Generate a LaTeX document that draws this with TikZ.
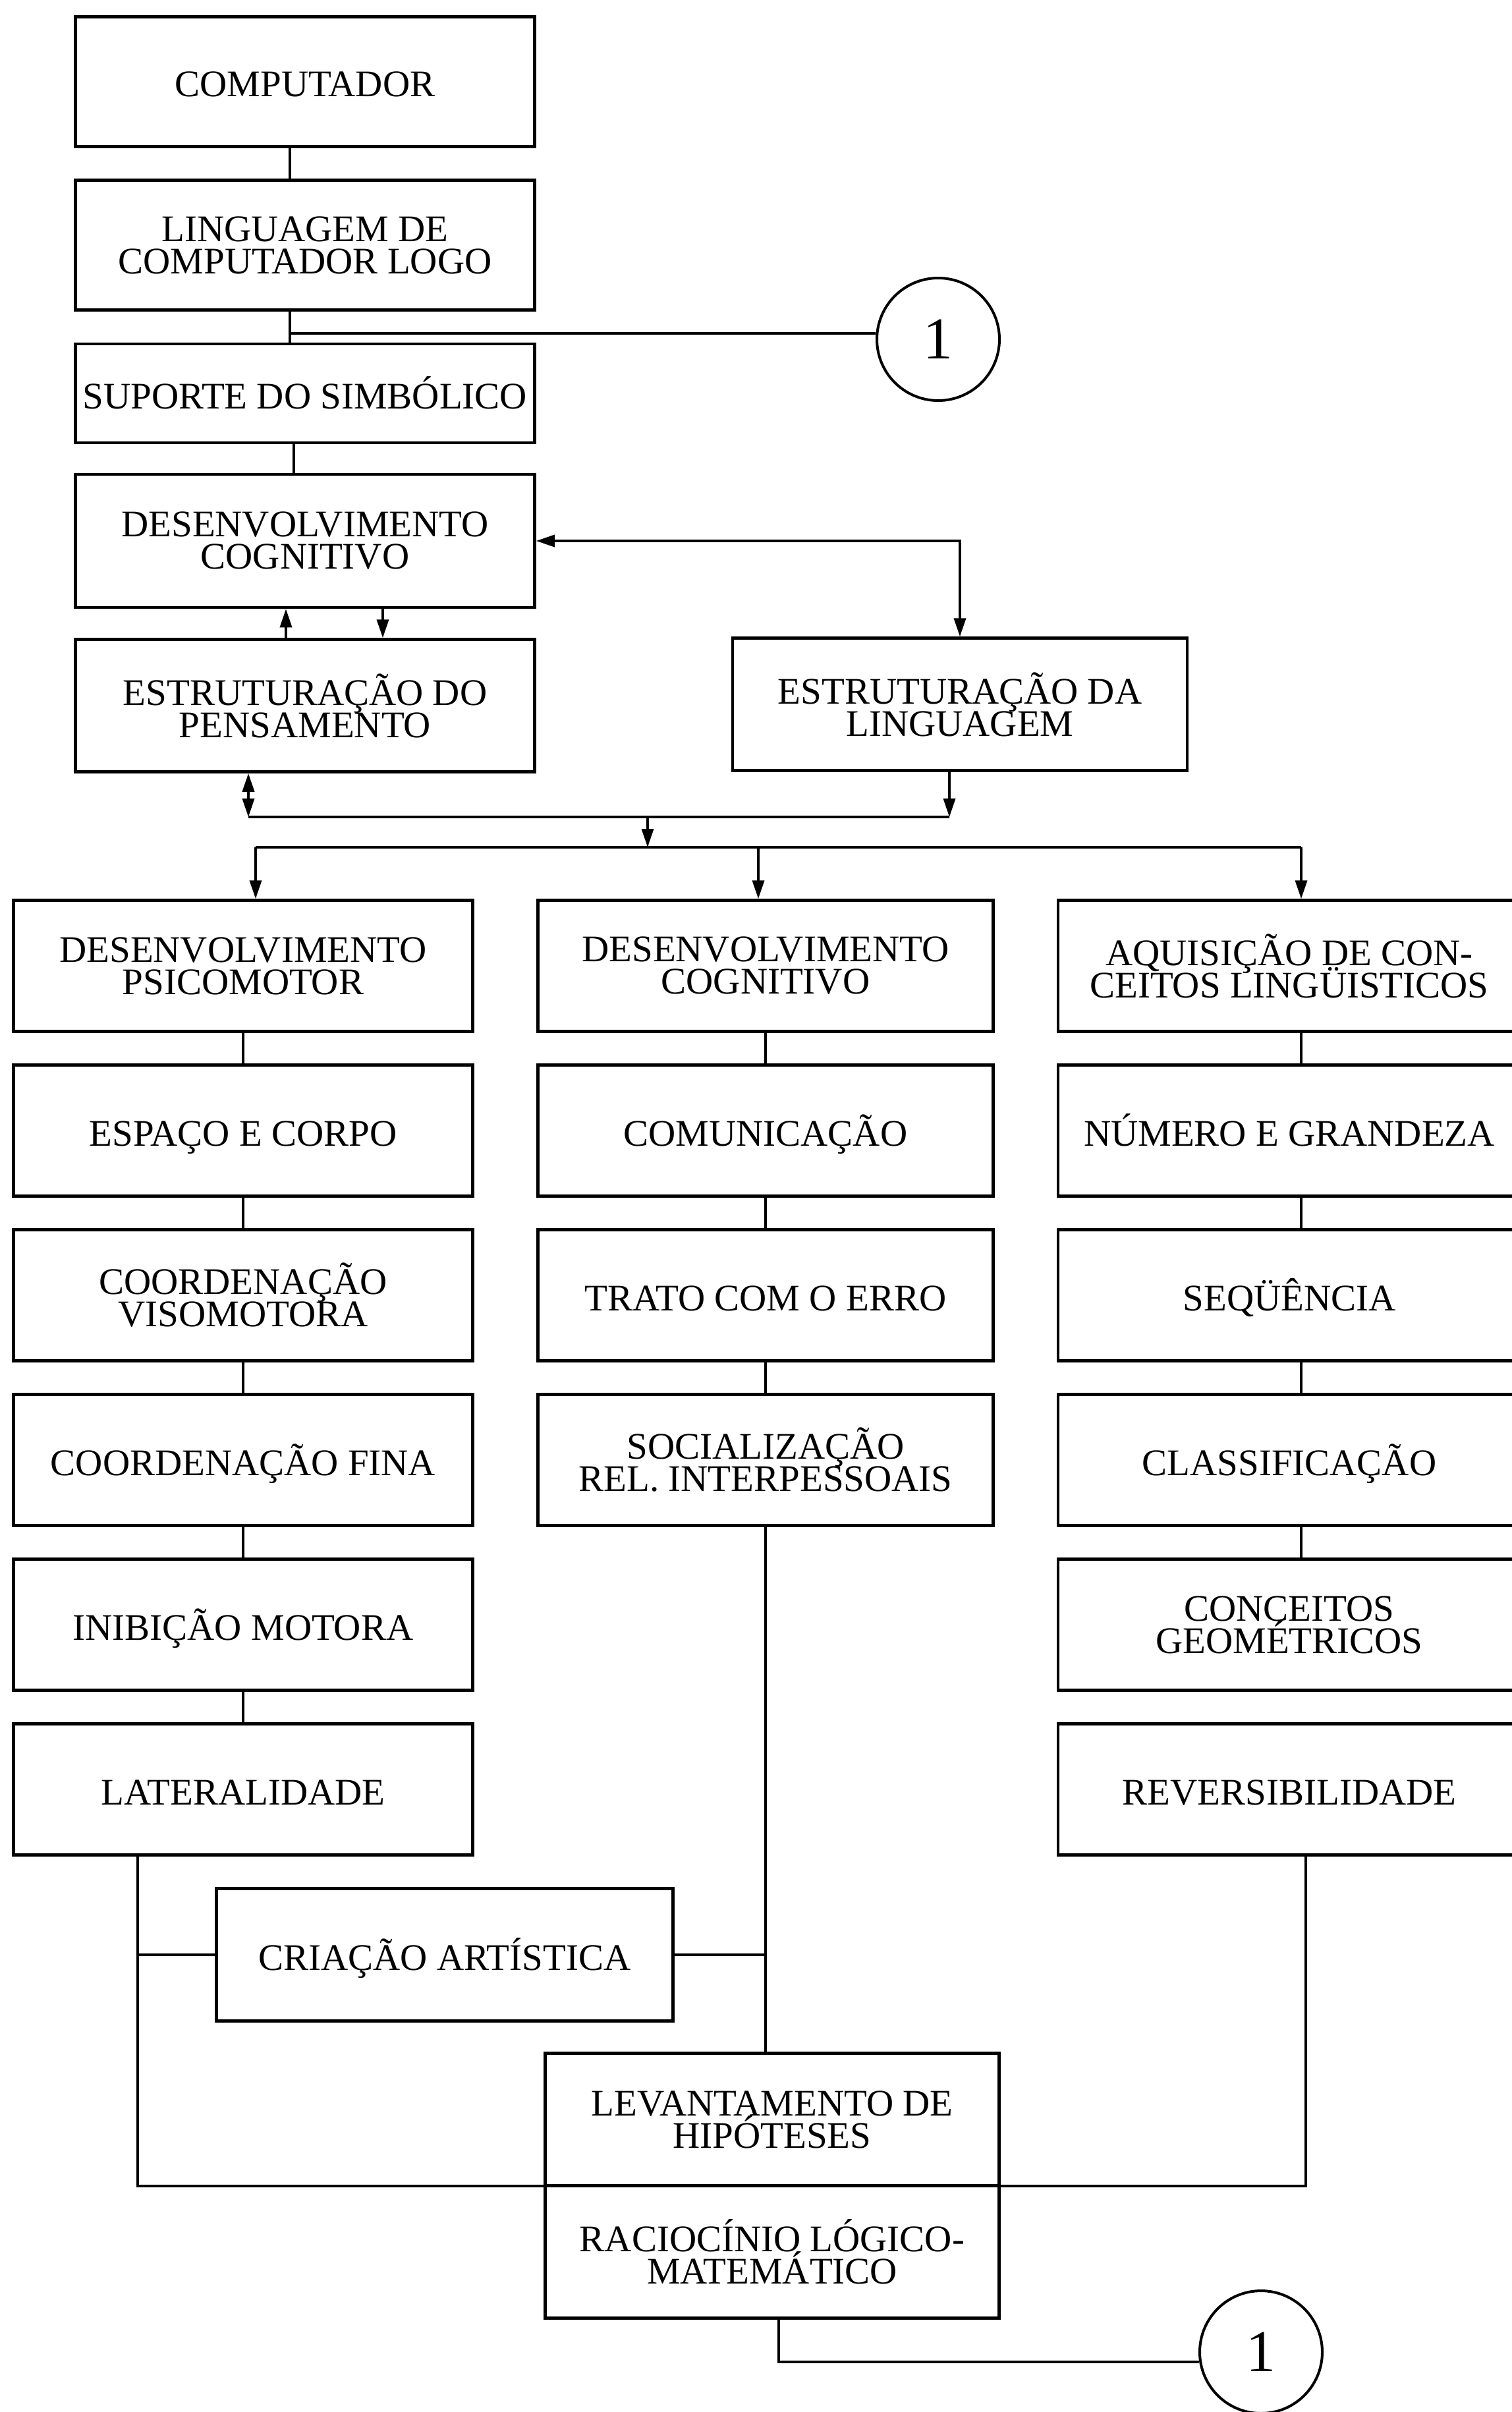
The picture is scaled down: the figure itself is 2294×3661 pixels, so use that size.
\documentclass[tikz,border=0pt]{standalone}
\usepackage{fontspec}
\setmainfont{Liberation Serif}
\usetikzlibrary{arrows.meta,positioning}

\tikzset{%
  % Specifications for style of nodes:
         base/.style    = { rectangle, draw = black, line width=4.5pt, inner sep=0pt, align=center, font={\fontsize{57pt}{49pt}\selectfont\lineskiplimit=-100pt} },
         box/.style     = { base, minimum width=697pt, minimum height=199pt },
         one/.style     = { text height=46pt, text depth=0pt },
         circ/.style    = { circle, draw = black, line width=4pt, minimum size=186pt, inner sep=0pt, font=\fontsize{90pt}{90pt}\selectfont },
  % Specifications for style of connectors:
         wire/.style    = { line width=3.5pt },
         pointer/.style = { wire, -{Triangle[length=28pt, width=18pt]} },
         twoway/.style  = { wire, {Triangle[length=28pt, width=18pt]}-{Triangle[length=28pt, width=18pt]} },
}

\begin{document}
\begin{tikzpicture}[x=1pt, y=-1pt, node distance=250pt]
    \useasboundingbox (0,0) rectangle (2294,3661);

    % Draw nodes
    \node (comp)    [box, one, minimum height=197pt] at (463,124)          {COMPUTADOR};
    \node (logo)    [box, minimum height=197pt, below of = comp, node distance=248pt] {LINGUAGEM DE\\COMPUTADOR LOGO};
    \node (sup)     [box, one, minimum height=150pt, below of = logo, node distance=225pt] {SUPORTE DO SIMBÓLICO};
    \node (devcog)  [box, minimum height=202pt, below of = sup, node distance=224pt]  {DESENVOLVIMENTO\\COGNITIVO};
    \node (estpen)  [box, minimum height=201pt, below of = devcog]          {ESTRUTURAÇÃO DO\\PENSAMENTO};
    \node (estlin)  [box, minimum width=690pt, minimum height=201pt] at (1457,1069) {ESTRUTURAÇÃO DA\\LINGUAGEM};
    \node (um1)     [circ] at (1424,515) {1};

    \node (psico)   [box] at (369,1466)              {DESENVOLVIMENTO\\PSICOMOTOR};
    \node (espaco)  [box, one, below of = psico]     {ESPAÇO E CORPO};
    \node (visomot) [box, below of = espaco]         {COORDENAÇÃO\\VISOMOTORA};
    \node (fina)    [box, one, below of = visomot]   {COORDENAÇÃO FINA};
    \node (inib)    [box, one, below of = fina]      {INIBIÇÃO MOTORA};
    \node (later)   [box, one, below of = inib]      {LATERALIDADE};

    \node (cogn)    [box, minimum width=691pt] at (1162,1466) {DESENVOLVIMENTO\\COGNITIVO};
    \node (comun)   [box, one, minimum width=691pt, below of = cogn]   {COMUNICAÇÃO};
    \node (erro)    [box, one, minimum width=691pt, below of = comun]  {TRATO COM O ERRO};
    \node (social)  [box, minimum width=691pt, below of = erro]        {SOCIALIZAÇÃO\\REL. INTERPESSOAIS};

    \node (aquis)   [box, minimum width=702pt] at (1957,1466) {AQUISIÇÃO DE CON-\\CEITOS LINGÜISTICOS};
    \node (numero)  [box, one, minimum width=702pt, below of = aquis]   {NÚMERO E GRANDEZA};
    \node (seq)     [box, one, minimum width=702pt, below of = numero]  {SEQÜÊNCIA};
    \node (classif) [box, one, minimum width=702pt, below of = seq]     {CLASSIFICAÇÃO};
    \node (geom)    [box, minimum width=702pt, below of = classif]      {CONCEITOS\\GEOMÉTRICOS};
    \node (revers)  [box, one, minimum width=702pt, below of = geom]    {REVERSIBILIDADE};

    \node (criacao) [box, one, minimum width=693pt, minimum height=201pt] at (675,2967) {CRIAÇÃO ARTÍSTICA};
    \node (levant)  [box, minimum width=689pt, minimum height=201pt] at (1172,3217) {LEVANTAMENTO DE\\HIPÓTESES};
    \node (racioc)  [box, minimum width=689pt, minimum height=201pt, below of = levant, node distance=201pt] {RACIOCÍNIO LÓGICO-\\MATEMÁTICO};
    \node (um2)     [circ] at (1914,3570) {1};

    % Junction points
    \coordinate (tap) at ([xshift=-23pt, yshift=-33pt]logo.south);
    \coordinate (jl)  at (377,1240);
    \coordinate (jm)  at (983,1240);
    \coordinate (jr)  at (1441,1240);
    \coordinate (kl)  at (388,1286);
    \coordinate (km)  at (983,1286);
    \coordinate (kc)  at (1151,1286);
    \coordinate (kr)  at (1975,1286);
    \coordinate (bl)  at (209,3318);
    \coordinate (br)  at (1982,3318);

    % Draw arrows
    \draw[wire]    ([xshift=-23pt]comp.south) -- ([xshift=-23pt]logo.north);
    \draw[wire]    ([xshift=-23pt]logo.south) -- ([xshift=-23pt]sup.north);
    \draw[wire]    (tap) -- (tap -| um1.west);
    \draw[wire]    ([xshift=-17pt]sup.south) -- ([xshift=-17pt]devcog.north);
    \draw[pointer] ([xshift=-29pt]estpen.north) -- ([xshift=-29pt]devcog.south);
    \draw[pointer] ([xshift=118pt]devcog.south) -- ([xshift=118pt]estpen.north);
    \draw[twoway]  (devcog.east) -| (estlin.north);

    \draw[twoway]  (estpen.south -| jl) -- (jl);
    \draw[pointer] (estlin.south -| jr) -- (jr);
    \draw[wire]    (jl) -- (jr);
    \draw[pointer] (jm) -- (km);
    \draw[wire]    (kl) -- (kr);
    \draw[pointer] (kl) -- (kl |- psico.north);
    \draw[pointer] (kc) -- (kc |- cogn.north);
    \draw[pointer] (kr) -- (kr |- aquis.north);

    \draw[wire]    (psico) -- (espaco);
    \draw[wire]    (espaco.south) -- (visomot.north);
    \draw[wire]    (visomot.south) -- (fina.north);
    \draw[wire]    (fina.south) -- (inib.north);
    \draw[wire]    (inib.south) -- (later.north);

    \draw[wire]    (cogn.south) -- (comun.north);
    \draw[wire]    (comun.south) -- (erro.north);
    \draw[wire]    (erro.south) -- (social.north);

    \draw[wire]    (aquis.south -| kr) -- (numero.north -| kr);
    \draw[wire]    (numero.south -| kr) -- (seq.north -| kr);
    \draw[wire]    (seq.south -| kr) -- (classif.north -| kr);
    \draw[wire]    (classif.south -| kr) -- (geom.north -| kr);

    \draw[wire]    (later.south -| bl) -- (bl) -- (br) -- (revers.south -| br);
    \draw[wire]    (criacao.west) -- (criacao.west -| bl);
    \draw[wire]    (social.south) -- (social.south |- levant.north);
    \draw[wire]    (criacao.east) -- (criacao.east -| social.south);
    \draw[wire]    ([xshift=10pt]racioc.south) |- (um2.189);
\end{tikzpicture}
\end{document}
